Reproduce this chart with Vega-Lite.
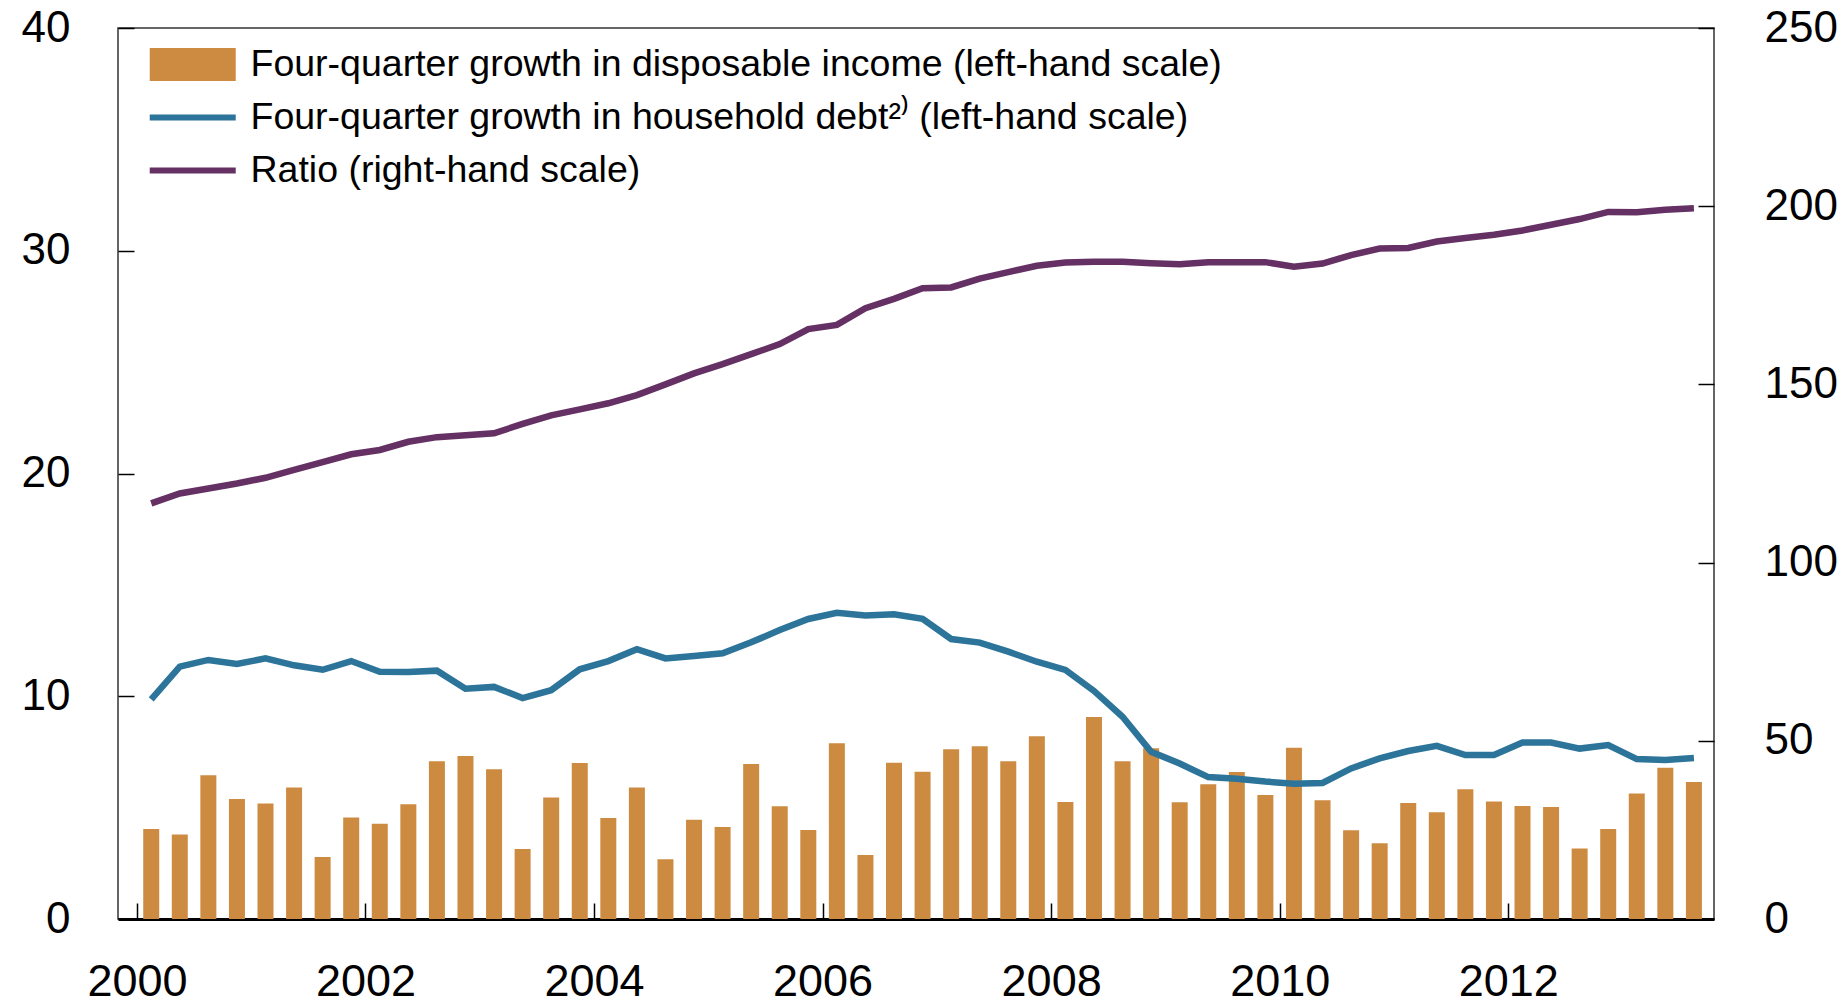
{
  "$schema": "https://vega.github.io/schema/vega-lite/v6.json",
  "autosize": {"type": "none"},
  "padding": {"left": 118, "top": 28, "right": 134, "bottom": 86},
  "width": 1596,
  "height": 891,
  "background": "white",
  "config": {
    "font": "Liberation Sans",
    "view": {"stroke": "#333333", "strokeWidth": 1.5},
    "axis": {"grid": false, "labelFont": "Liberation Sans", "labelColor": "black", "tickColor": "black", "tickWidth": 1.5}
  },
  "data": {"values": [
    {"q": "2000Q1", "t": 2000.125, "income": 4.04, "debt": 9.86, "ratio": 116.6},
    {"q": "2000Q2", "t": 2000.375, "income": 3.79, "debt": 11.33, "ratio": 119.4},
    {"q": "2000Q3", "t": 2000.625, "income": 6.45, "debt": 11.63, "ratio": 120.8},
    {"q": "2000Q4", "t": 2000.875, "income": 5.39, "debt": 11.45, "ratio": 122.2},
    {"q": "2001Q1", "t": 2001.125, "income": 5.18, "debt": 11.70, "ratio": 123.8},
    {"q": "2001Q2", "t": 2001.375, "income": 5.90, "debt": 11.39, "ratio": 126.0},
    {"q": "2001Q3", "t": 2001.625, "income": 2.78, "debt": 11.19, "ratio": 128.2},
    {"q": "2001Q4", "t": 2001.875, "income": 4.56, "debt": 11.58, "ratio": 130.4},
    {"q": "2002Q1", "t": 2002.125, "income": 4.28, "debt": 11.10, "ratio": 131.6},
    {"q": "2002Q2", "t": 2002.375, "income": 5.15, "debt": 11.09, "ratio": 133.9},
    {"q": "2002Q3", "t": 2002.625, "income": 7.08, "debt": 11.15, "ratio": 135.2},
    {"q": "2002Q4", "t": 2002.875, "income": 7.32, "debt": 10.34, "ratio": 135.7},
    {"q": "2003Q1", "t": 2003.125, "income": 6.72, "debt": 10.42, "ratio": 136.3},
    {"q": "2003Q2", "t": 2003.375, "income": 3.14, "debt": 9.92, "ratio": 138.9},
    {"q": "2003Q3", "t": 2003.625, "income": 5.45, "debt": 10.27, "ratio": 141.3},
    {"q": "2003Q4", "t": 2003.875, "income": 7.00, "debt": 11.21, "ratio": 143.0},
    {"q": "2004Q1", "t": 2004.125, "income": 4.53, "debt": 11.58, "ratio": 144.7},
    {"q": "2004Q2", "t": 2004.375, "income": 5.90, "debt": 12.11, "ratio": 147.0},
    {"q": "2004Q3", "t": 2004.625, "income": 2.68, "debt": 11.70, "ratio": 150.0},
    {"q": "2004Q4", "t": 2004.875, "income": 4.46, "debt": 11.81, "ratio": 153.1},
    {"q": "2005Q1", "t": 2005.125, "income": 4.13, "debt": 11.93, "ratio": 155.7},
    {"q": "2005Q2", "t": 2005.375, "income": 6.96, "debt": 12.42, "ratio": 158.5},
    {"q": "2005Q3", "t": 2005.625, "income": 5.06, "debt": 12.97, "ratio": 161.3},
    {"q": "2005Q4", "t": 2005.875, "income": 4.00, "debt": 13.47, "ratio": 165.5},
    {"q": "2006Q1", "t": 2006.125, "income": 7.89, "debt": 13.75, "ratio": 166.7},
    {"q": "2006Q2", "t": 2006.375, "income": 2.87, "debt": 13.63, "ratio": 171.4},
    {"q": "2006Q3", "t": 2006.625, "income": 7.02, "debt": 13.68, "ratio": 174.0},
    {"q": "2006Q4", "t": 2006.875, "income": 6.61, "debt": 13.48, "ratio": 177.0},
    {"q": "2007Q1", "t": 2007.125, "income": 7.62, "debt": 12.57, "ratio": 177.2},
    {"q": "2007Q2", "t": 2007.375, "income": 7.75, "debt": 12.41, "ratio": 179.7},
    {"q": "2007Q3", "t": 2007.625, "income": 7.08, "debt": 12.00, "ratio": 181.5},
    {"q": "2007Q4", "t": 2007.875, "income": 8.20, "debt": 11.55, "ratio": 183.3},
    {"q": "2008Q1", "t": 2008.125, "income": 5.25, "debt": 11.18, "ratio": 184.2},
    {"q": "2008Q2", "t": 2008.375, "income": 9.07, "debt": 10.24, "ratio": 184.4},
    {"q": "2008Q3", "t": 2008.625, "income": 7.08, "debt": 9.08, "ratio": 184.4},
    {"q": "2008Q4", "t": 2008.875, "income": 7.66, "debt": 7.51, "ratio": 184.0},
    {"q": "2009Q1", "t": 2009.125, "income": 5.24, "debt": 6.98, "ratio": 183.7},
    {"q": "2009Q2", "t": 2009.375, "income": 6.05, "debt": 6.37, "ratio": 184.3},
    {"q": "2009Q3", "t": 2009.625, "income": 6.60, "debt": 6.30, "ratio": 184.3},
    {"q": "2009Q4", "t": 2009.875, "income": 5.57, "debt": 6.17, "ratio": 184.3},
    {"q": "2010Q1", "t": 2010.125, "income": 7.69, "debt": 6.07, "ratio": 183.0},
    {"q": "2010Q2", "t": 2010.375, "income": 5.33, "debt": 6.11, "ratio": 183.9},
    {"q": "2010Q3", "t": 2010.625, "income": 3.98, "debt": 6.76, "ratio": 186.3},
    {"q": "2010Q4", "t": 2010.875, "income": 3.40, "debt": 7.21, "ratio": 188.1},
    {"q": "2011Q1", "t": 2011.125, "income": 5.21, "debt": 7.54, "ratio": 188.3},
    {"q": "2011Q2", "t": 2011.375, "income": 4.79, "debt": 7.77, "ratio": 190.1},
    {"q": "2011Q3", "t": 2011.625, "income": 5.82, "debt": 7.36, "ratio": 191.1},
    {"q": "2011Q4", "t": 2011.875, "income": 5.27, "debt": 7.36, "ratio": 192.0},
    {"q": "2012Q1", "t": 2012.125, "income": 5.07, "debt": 7.92, "ratio": 193.2},
    {"q": "2012Q2", "t": 2012.375, "income": 5.03, "debt": 7.92, "ratio": 194.8},
    {"q": "2012Q3", "t": 2012.625, "income": 3.16, "debt": 7.65, "ratio": 196.4},
    {"q": "2012Q4", "t": 2012.875, "income": 4.04, "debt": 7.81, "ratio": 198.4},
    {"q": "2013Q1", "t": 2013.125, "income": 5.63, "debt": 7.18, "ratio": 198.3},
    {"q": "2013Q2", "t": 2013.375, "income": 6.79, "debt": 7.14, "ratio": 199.0},
    {"q": "2013Q3", "t": 2013.625, "income": 6.15, "debt": 7.23, "ratio": 199.4}
  ]},
  "encoding": {
    "x": {
      "field": "t", "type": "quantitative",
      "scale": {"domain": [1999.878, 2013.757], "nice": false, "zero": false},
      "axis": {
        "title": null, "values": [2000, 2002, 2004, 2006, 2008, 2010, 2012], "format": "d",
        "labelFontSize": 45, "tickSize": -16, "labelPadding": 56,
        "domain": true, "domainColor": "black", "domainWidth": 3,
        "labelFlush": false, "labelOverlap": false
      }
    }
  },
  "layer": [
    {
      "layer": [
        {
          "mark": {"type": "bar", "size": 16, "color": "#CD8B42"},
          "encoding": {
            "y": {
              "field": "income", "type": "quantitative",
              "scale": {"domain": [0, 40], "nice": false},
              "axis": {
                "title": null, "orient": "left", "values": [0, 10, 20, 30, 40],
                "labelFontSize": 44, "tickSize": -16, "labelPadding": 64,
                "domain": false, "labelFlush": false, "labelOverlap": false
              }
            },
            "color": {
              "datum": "Four-quarter growth in disposable income (left-hand scale)",
              "type": "nominal",
              "scale": {
                "domain": [
                  "Four-quarter growth in disposable income (left-hand scale)",
                  "Four-quarter growth in household debt²⁾ (left-hand scale)",
                  "Ratio (right-hand scale)"
                ],
                "range": ["#CD8B42", "#2C7499", "#653063"]
              },
              "legend": {
                "title": null, "orient": "none", "legendX": 31, "legendY": 18.5,
                "padding": 0, "labelFont": "Liberation Sans", "labelFontSize": 37.5, "labelColor": "black",
                "labelOffset": 64, "clipHeight": 36, "rowPadding": 15, "labelLimit": 1500,
                "symbolSize": 7396,
                "encode": {
                  "symbols": {
                    "update": {
                      "shape": {"signal": "datum.index === 0 ? 'M-0.419,-0.385H1.581V0.385H-0.419Z' : 'M-0.419,0H1.581'"},
                      "size": {"value": 7396},
                      "fill": {"signal": "datum.index === 0 ? '#CD8B42' : 'transparent'"},
                      "stroke": {"signal": "datum.index === 1 ? '#2C7499' : (datum.index === 2 ? '#653063' : 'transparent')"},
                      "strokeWidth": {"signal": "datum.index === 0 ? 0 : 6"},
                      "opacity": {"value": 1}
                    }
                  }
                }
              }
            }
          }
        },
        {
          "mark": {"type": "line", "strokeWidth": 6.5, "color": "#2C7499"},
          "encoding": {
            "y": {"field": "debt", "type": "quantitative"},
            "color": {"datum": "Four-quarter growth in household debt²⁾ (left-hand scale)", "type": "nominal"}
          }
        }
      ]
    },
    {
      "mark": {"type": "line", "strokeWidth": 6.5, "color": "#653063"},
      "encoding": {
        "y": {
          "field": "ratio", "type": "quantitative",
          "scale": {"domain": [0, 250], "nice": false},
          "axis": {
            "title": null, "orient": "right", "values": [0, 50, 100, 150, 200, 250],
            "labelFontSize": 44, "tickSize": -16, "labelPadding": 66,
            "domain": false, "labelFlush": false, "labelOverlap": false
          }
        },
        "color": {"datum": "Ratio (right-hand scale)", "type": "nominal"}
      }
    }
  ],
  "resolve": {"scale": {"y": "independent"}}
}
